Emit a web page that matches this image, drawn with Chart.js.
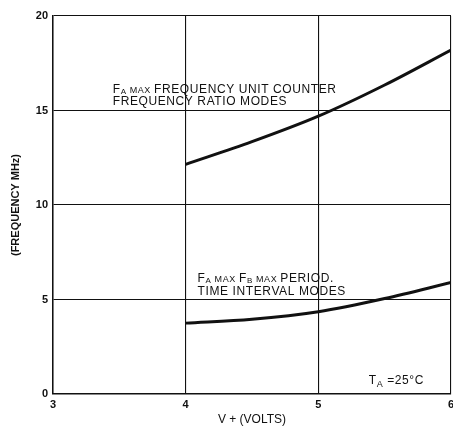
<!DOCTYPE html>
<html>
<head>
<meta charset="utf-8">
<script src="https://cdn.jsdelivr.net/npm/chart.js@4.4.1/dist/chart.umd.min.js"></script>
<style>
  html, body { margin: 0; padding: 0; background: #fff; }
  #wrap { width: 453px; height: 427px; }
</style>
</head>
<body>
<div id="wrap"><canvas id="freqChart" width="453" height="427"></canvas></div>
<script>
// data
const voltage = [4, 4.5, 5, 5.5, 6];
const unitCounter = [12.15, 13.35, 14.7, 16.35, 18.2];
const periodMode = [3.75, 3.95, 4.35, 5.05, 5.9];
const xTicks = [3, 4, 5, 6];
const yTicks = [0, 5, 10, 15, 20];

const ink = '#111';
const font = '"Liberation Sans", Arial, sans-serif';

// draws one label with small-caps pieces: [text, size, dy]
function drawPieces(ctx, x, y, pieces) {
    let cx = x;
    pieces.forEach(p => {
        ctx.font = (p[3] || 'normal') + ' ' + p[1] + 'px ' + font;
        ctx.fillText(p[0], cx, y + (p[2] || 0));
        cx += ctx.measureText(p[0]).width;
    });
}

const notes = {
    id: 'notes',
    afterDraw(chart) {
        const ctx = chart.ctx;
        const xs = chart.scales.x, ys = chart.scales.y;
        ctx.save();
        ctx.fillStyle = ink;
        ctx.textBaseline = 'alphabetic';
        ctx.textAlign = 'left';
        ctx.letterSpacing = '0.6px';

        let x0 = xs.getPixelForValue(3.45), y0 = ys.getPixelForValue(15.9);
        drawPieces(ctx, x0, y0, [['F', 12], ['A', 8, 1], [' MAX ', 9], ['FREQUENCY UNIT COUNTER', 12]]);
        drawPieces(ctx, x0, y0 + 12, [['FREQUENCY RATIO MODES', 12]]);

        x0 = xs.getPixelForValue(4.09); y0 = ys.getPixelForValue(5.95);
        drawPieces(ctx, x0, y0, [['F', 12], ['A', 8, 1], [' MAX ', 9], ['F', 12], ['B', 8, 1], [' MAX ', 9], ['PERIOD.', 12]]);
        drawPieces(ctx, x0, y0 + 13, [['TIME INTERVAL MODES', 12]]);

        x0 = xs.getPixelForValue(5.38); y0 = ys.getPixelForValue(0.55);
        drawPieces(ctx, x0, y0, [['T', 12], ['A', 9, 3], [' =25°C', 12]]);
        ctx.restore();
    }
};

new Chart(document.getElementById('freqChart'), {
    type: 'line',
    data: {
        datasets: [{
            label: 'FA max unit counter',
            data: voltage.map((v, i) => ({ x: v, y: unitCounter[i] })),
            borderColor: ink,
            borderWidth: 3,
            pointRadius: 0,
            cubicInterpolationMode: 'monotone',
            fill: false
        }, {
            label: 'FA max FB max period',
            data: voltage.map((v, i) => ({ x: v, y: periodMode[i] })),
            borderColor: ink,
            borderWidth: 3,
            pointRadius: 0,
            cubicInterpolationMode: 'monotone',
            fill: false
        }]
    },
    options: {
        responsive: false,
        animation: false,
        layout: { padding: { top: 16, right: 2, left: 0, bottom: 0 } },
        plugins: {
            legend: { display: false },
            tooltip: { enabled: false }
        },
        scales: {
            x: {
                type: 'linear',
                min: 3,
                max: 6,
                afterBuildTicks: axis => { axis.ticks = xTicks.map(v => ({ value: v })); },
                afterFit: axis => {
                    axis.height = 33;
                    axis.paddingRight = 0;
                    axis.paddingLeft = 0;
                },
                grid: { color: ink, lineWidth: 1.1, drawTicks: false },
                border: { color: ink, width: 1.5 },
                ticks: {
                    color: ink,
                    padding: 4,
                    font: { family: font, size: 11, weight: 'bold' }
                },
                title: {
                    display: true,
                    text: 'V + (VOLTS)',
                    color: ink,
                    padding: { top: 0, bottom: 0 },
                    font: { family: font, size: 12 }
                }
            },
            y: {
                min: 0,
                max: 20,
                afterBuildTicks: axis => { axis.ticks = yTicks.map(v => ({ value: v })); },
                afterFit: axis => { axis.width = 53; },
                grid: { color: ink, lineWidth: 1.1, drawTicks: false },
                border: { color: ink, width: 1.5 },
                ticks: {
                    color: ink,
                    padding: 5,
                    font: { family: font, size: 11, weight: 'bold' }
                },
                title: {
                    display: true,
                    text: '(FREQUENCY MHz)',
                    color: ink,
                    padding: { top: 9, bottom: 0 },
                    font: { family: font, size: 11, weight: 'bold' }
                }
            }
        }
    },
    plugins: [notes]
});
</script>
</body>
</html>
